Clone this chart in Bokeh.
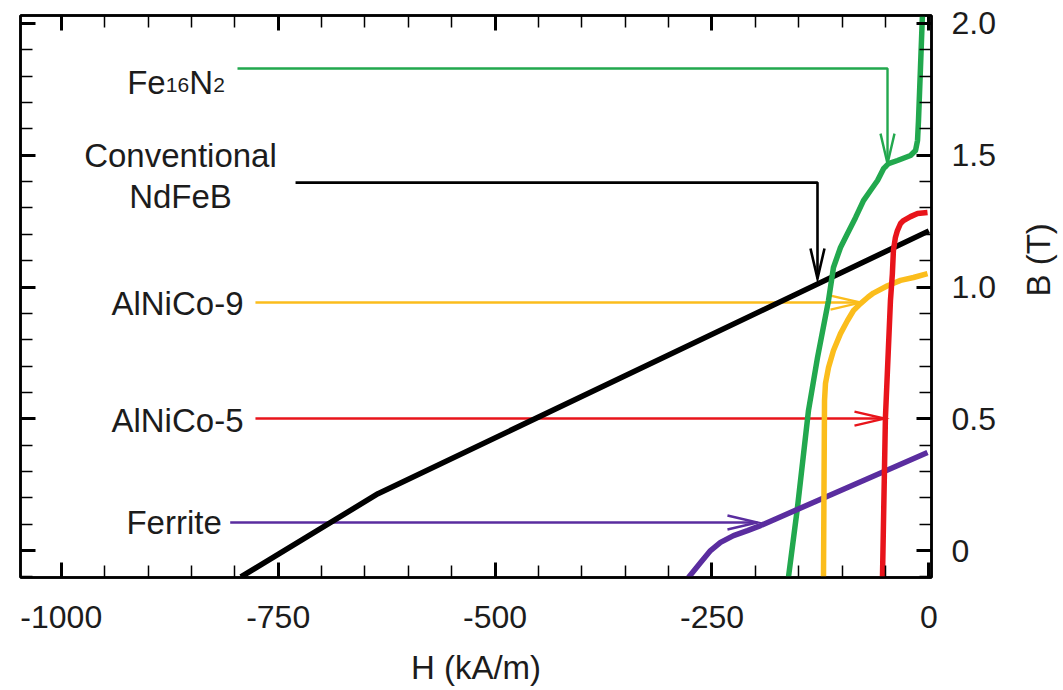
import math
from bokeh.plotting import figure
from bokeh.models import LinearAxis, SingleIntervalTicker, Range1d
from bokeh.embed import file_html
from bokeh.resources import INLINE
from bokeh.core.properties import value

# ---------------- data (H in kA/m, B in T) ----------------
ndfeb_h = [-793, -635, 0]
ndfeb_b = [-0.10, 0.216, 1.213]

fe16n2_h = [-161.9, -151.5, -138.8, -128.4, -115.7, -110.0, -101.9, -93.8, -84.6,
            -75.4, -67.3, -59.2, -52.3, -46.6, -36.2, -21.2, -15.4, -13.1, -12.0,
            -9.7, -7.4]
fe16n2_b = [-0.102, 0.163, 0.531, 0.732, 0.949, 1.074, 1.150, 1.203, 1.263,
            1.328, 1.366, 1.404, 1.449, 1.468, 1.480, 1.499, 1.518, 1.556, 1.631,
            1.832, 2.037]

alnico9_h = [-121.5, -120.3, -119.2, -115.7, -110.0, -101.9, -93.8, -86.9, -78.8,
             -70.0, -63.9, -47.7, -32.7, -17.8, -1.6]
alnico9_b = [-0.102, 0.569, 0.634, 0.695, 0.759, 0.823, 0.873, 0.911, 0.937,
             0.962, 0.977, 1.005, 1.025, 1.036, 1.051]

alnico5_h = [-53.5, -50.1, -44.3, -42.1, -40.9, -38.6, -36.3, -32.7, -29.3, -21.2,
             -13.1, -1.6]
alnico5_b = [-0.102, 0.505, 0.949, 1.050, 1.138, 1.188, 1.214, 1.241, 1.252, 1.267,
             1.279, 1.283]

ferrite_h = [-277.1, -263.1, -251.7, -240.2, -225.2, -209.1, -194.1, -1.6]
ferrite_b = [-0.102, -0.045, 0.000, 0.031, 0.057, 0.076, 0.095, 0.372]

x_ticks = [-1000, -750, -500, -250, 0]
x_tick_labels = ["-1000", "-750", "-500", "-250", "0"]
y_ticks = [0, 0.5, 1.0, 1.5, 2.0]
y_tick_labels = ["0", "0.5", "1.0", "1.5", "2.0"]

x_title = "H (kA/m)"
y_title = "B (T)"

# annotation arrows: (label, path x, path y, head direction)
arrow_specs = [
    ("Fe16N2",   [-796.9, -47.7, -47.7],  [1.829, 1.829, 1.468], "down"),
    ("NdFeB",    [-730.0, -128.4, -128.4], [1.396, 1.396, 1.032], "down"),
    ("AlNiCo-9", [-776.2, -78.8],          [0.941, 0.941],        "right"),
    ("AlNiCo-5", [-776.2, -51.2],          [0.501, 0.501],        "right"),
    ("Ferrite",  [-805.3, -197.6],         [0.1066, 0.1066],      "right"),
]

# ---------------- styling ----------------
GREEN = "#22a84e"
YELLOW = "#fbbd1c"
RED = "#e8141b"
PURPLE = "#5a2d9f"
BLACK = "#000000"
TEXT = "#1c1c1c"
FONT = "Liberation Sans"

colors = {"Fe16N2": GREEN, "NdFeB": BLACK, "AlNiCo-9": YELLOW,
          "AlNiCo-5": RED, "Ferrite": PURPLE}

X0, X1 = -1047, 3
Y0, Y1 = -0.102, 2.03
FW, FH = 911, 562
ux = (X1 - X0) / FW   # data units per pixel
uy = (Y1 - Y0) / FH

p = figure(frame_width=FW, frame_height=FH,
           x_range=Range1d(X0, X1), y_range=Range1d(Y0, Y1),
           output_backend="svg", toolbar_location=None,
           x_axis_location=None, y_axis_location=None,
           min_border_left=20, min_border_right=132,
           min_border_top=15, min_border_bottom=113,
           background_fill_color="white", border_fill_color="white")
p.xgrid.visible = False
p.ygrid.visible = False
p.outline_line_color = "black"
p.outline_line_width = 2.5


def style_axis(ax, show):
    ax.axis_line_color = "black"
    ax.axis_line_width = 2.5
    ax.major_tick_in = 15
    ax.major_tick_out = 0
    ax.major_tick_line_width = 3
    ax.minor_tick_in = 12
    ax.minor_tick_out = 0
    ax.minor_tick_line_width = 1.5
    ax.major_label_text_font = FONT
    ax.major_label_text_color = TEXT
    ax.axis_label_text_font = FONT
    ax.axis_label_text_color = TEXT
    ax.axis_label_text_font_style = "normal"
    ax.axis_label_text_font_size = "33px"
    if show:
        ax.major_label_text_font_size = "32px"
    else:
        ax.major_label_text_font_size = "1px"
        ax.major_label_standoff = 0


xb = LinearAxis(ticker=SingleIntervalTicker(interval=250, num_minor_ticks=5))
style_axis(xb, True)
xb.major_label_overrides = dict(zip(x_ticks, x_tick_labels))
xb.major_label_standoff = 28
xb.axis_label = x_title
xb.axis_label_standoff = 18
p.add_layout(xb, "below")

xt = LinearAxis(ticker=SingleIntervalTicker(interval=250, num_minor_ticks=5))
style_axis(xt, False)
xt.major_label_overrides = {t: "" for t in x_ticks}
p.add_layout(xt, "above")

yr = LinearAxis(ticker=SingleIntervalTicker(interval=0.5, num_minor_ticks=5))
style_axis(yr, True)
yr.major_label_overrides = dict(zip(y_ticks, y_tick_labels))
yr.major_label_standoff = 20
yr.axis_label = y_title
yr.axis_label_standoff = 40
yr.axis_label_orientation = math.pi / 2
yr.axis_label_text_align = "right"
p.add_layout(yr, "right")

yl = LinearAxis(ticker=SingleIntervalTicker(interval=0.5, num_minor_ticks=5))
style_axis(yl, False)
yl.major_label_overrides = {t: "" for t in y_ticks}
p.add_layout(yl, "left")

# ---------------- annotation arrows (under the curves) ----------------
HEAD_L, HEAD_W = 30, 7
for name, ax_, ay_, d in arrow_specs:
    c = colors[name]
    lw = 2.6 if name == "NdFeB" else 2.4
    p.line(ax_, ay_, line_color=c, line_width=lw)
    tx, ty = ax_[-1], ay_[-1]
    if d == "down":
        hx = [tx - HEAD_W * ux, tx, tx + HEAD_W * ux]
        hy = [ty + HEAD_L * uy, ty, ty + HEAD_L * uy]
    else:
        hx = [tx - HEAD_L * ux, tx, tx - HEAD_L * ux]
        hy = [ty + HEAD_W * uy, ty, ty - HEAD_W * uy]
    p.line(hx, hy, line_color=c, line_width=lw, line_join="miter")

# ---------------- curves ----------------
LW = 5.5
p.line(ndfeb_h, ndfeb_b, line_color=BLACK, line_width=LW)
p.line(fe16n2_h, fe16n2_b, line_color=GREEN, line_width=LW, line_join="round")
p.line(ferrite_h, ferrite_b, line_color=PURPLE, line_width=LW, line_join="round")
p.line(alnico9_h, alnico9_b, line_color=YELLOW, line_width=LW, line_join="round")
p.line(alnico5_h, alnico5_b, line_color=RED, line_width=LW, line_join="round")

# ---------------- labels ----------------
def txt(x, y, s, size, align="right", baseline="middle", xoff=0):
    p.text(x=[x], y=[y], text=[s], text_font=value(FONT), text_font_size=size,
           text_color=TEXT, text_align=align, text_baseline=baseline, x_offset=xoff)

txt(-862.6, 1.499, "Conventional", "33px", align="center")
txt(-862.6, 1.343, "NdFeB", "33px", align="center")
txt(-790.0, 0.937, "AlNiCo-9", "33px")
txt(-790.0, 0.4935, "AlNiCo-5", "33px")
txt(-815.0, 0.1085, "Ferrite", "33px")

# Fe16N2 with subscripts
fx, fy = -924.0, 1.776
sub_dy = 3 * uy
txt(fx, fy, "Fe", "33px", align="left", baseline="alphabetic", xoff=0)
txt(fx, fy - sub_dy, "16", "21px", align="left", baseline="alphabetic", xoff=38.5)
txt(fx, fy, "N", "33px", align="left", baseline="alphabetic", xoff=62)
txt(fx, fy - sub_dy, "2", "21px", align="left", baseline="alphabetic", xoff=86)

open("out.html", "w").write(file_html(p, INLINE))
